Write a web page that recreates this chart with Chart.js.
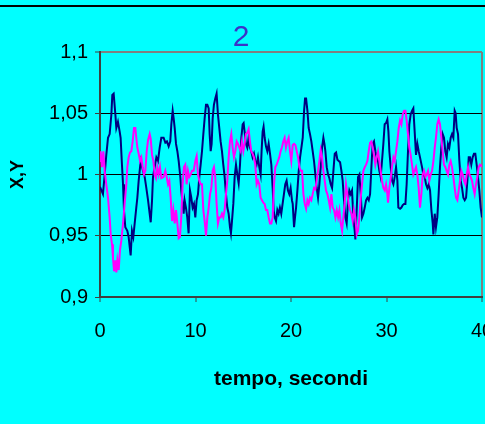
<!DOCTYPE html>
<html>
<head>
<meta charset="utf-8">
<style>
  html, body { margin: 0; padding: 0; background: #00ffff; }
  canvas { display: block; }
</style>
<script src="https://cdn.jsdelivr.net/npm/chart.js@4"></script>
</head>
<body>
<canvas id="grafico" width="485" height="424"></canvas>
<script>
// Serie X (blu): tempo in secondi e valori
const tempoX = [0, 0.31, 0.49, 0.66, 0.84, 1.01, 1.19, 1.29, 1.43, 1.61, 1.71, 1.88, 2.06, 2.16, 2.30, 2.41, 2.51, 2.65, 2.86, 3.00, 3.11, 3.21, 3.35, 3.49, 3.63, 3.80, 3.91, 4.05, 4.26, 4.50, 4.68, 4.85, 5.03, 5.20, 5.31, 5.45, 5.55, 5.72, 5.90, 6.07, 6.25, 6.42,
  6.66, 6.84, 7.01, 7.19, 7.36, 7.47, 7.61, 7.71, 7.82, 7.96, 8.10, 8.24, 8.41, 8.51, 8.65, 8.76, 8.86, 9.00, 9.14, 9.28, 9.42, 9.56, 9.70, 9.84, 9.98, 10.12, 10.26, 10.40, 10.54, 10.68, 10.82, 10.96, 11.10, 11.24, 11.38, 11.48, 11.59, 11.69, 11.80, 11.93, 12.07, 12.21, 12.35, 12.49, 12.63, 12.77, 12.91, 13.05, 13.19, 13.33,
  13.47, 13.61, 13.71, 13.82, 13.96, 14.10, 14.24, 14.38, 14.52, 14.66, 14.80, 14.94, 15.04, 15.14, 15.28, 15.42, 15.56, 15.70, 15.84, 15.98, 16.12, 16.26, 16.40, 16.54, 16.68, 16.82, 16.92, 17.03, 17.13, 17.24, 17.38, 17.52, 17.66, 17.80, 17.94, 18.08, 18.18, 18.29, 18.43, 18.57, 18.70, 18.84, 18.98, 19.12, 19.26, 19.40, 19.54, 19.68, 19.82, 19.96, 20.10,
  20.18, 20.32, 20.42, 20.53, 20.67, 20.81, 20.95, 21.09, 21.23, 21.37, 21.47, 21.58, 21.72, 21.85, 21.99, 22.13, 22.27, 22.41, 22.55, 22.69, 22.83, 22.97, 23.11, 23.25, 23.39, 23.50, 23.60, 23.74, 23.88, 24.02, 24.16, 24.30, 24.44, 24.58, 24.72, 24.86, 25.00, 25.14, 25.28, 25.41, 25.55, 25.69, 25.83, 25.97, 26.11, 26.25, 26.39, 26.53, 26.67, 26.74, 26.88,
  27.02, 27.16, 27.30, 27.44, 27.58, 27.72, 27.86, 28.00, 28.14, 28.28, 28.42, 28.55, 28.69, 28.83, 28.97, 29.11, 29.25, 29.39, 29.53, 29.67, 29.81, 29.95, 30.09, 30.20, 30.30, 30.44, 30.58, 30.72, 30.86, 31.00, 31.14, 31.24, 31.42, 31.56, 31.70, 31.84, 31.98, 32.11, 32.25, 32.39, 32.53, 32.67, 32.81, 32.95, 33.09, 33.23, 33.37, 33.51,
  33.72, 33.86, 34.00, 34.14, 34.28, 34.42, 34.56, 34.70, 34.84, 34.91, 35.05, 35.18, 35.32, 35.46, 35.60, 35.74, 35.88, 36.02, 36.16, 36.30, 36.44, 36.58, 36.72, 36.86, 37.00, 37.14, 37.24, 37.35, 37.49, 37.63, 37.77, 37.91, 38.05, 38.19, 38.33, 38.47, 38.61, 38.74, 38.88, 39.02, 39.16, 39.30, 39.44, 39.58, 39.72, 39.86, 40.00];
const serieX = [0.990, 0.984, 1.000, 1.016, 1.030, 1.033, 1.049, 1.065, 1.066, 1.049, 1.038, 1.043, 1.035, 1.030, 1.008, 0.992, 0.971, 0.957, 0.954, 0.949, 0.941, 0.934, 0.954, 0.949, 0.960, 0.973, 0.981, 0.995, 1.011, 1.003, 0.998, 0.989, 0.979, 0.968, 0.961, 0.979, 0.998, 1.006, 1.014, 1.011, 1.022, 1.030,
  1.030, 1.026, 1.027, 1.023, 1.027, 1.041, 1.052, 1.046, 1.038, 1.025, 1.019, 1.011, 0.998, 0.987, 0.976, 0.968, 0.979, 0.973, 0.965, 0.952, 0.987, 0.981, 0.973, 0.976, 0.965, 0.979, 0.984, 0.998, 1.008, 1.019, 1.033, 1.046, 1.057, 1.057, 1.054, 1.033, 1.019, 1.025, 1.046, 1.057, 1.062, 1.066, 1.049, 1.038, 1.027, 1.019, 1.008, 0.998, 0.984, 0.973,
  0.968, 0.957, 0.952, 0.962, 0.976, 0.998, 1.008, 1.000, 0.993, 1.008, 1.030, 1.041, 1.042, 1.035, 1.025, 1.022, 1.030, 1.022, 1.019, 1.014, 1.017, 1.011, 1.008, 1.014, 1.006, 1.000, 1.019, 1.035, 1.039, 1.030, 1.023, 1.019, 1.025, 1.017, 1.008, 0.989, 0.971, 0.965, 0.962, 0.971, 0.968, 0.973, 0.968, 0.976, 0.984, 0.992, 0.995, 0.987, 0.984, 0.989, 0.979,
  0.976, 0.957, 0.965, 0.973, 0.987, 1.003, 1.014, 1.022, 1.030, 1.052, 1.062, 1.062, 1.052, 1.038, 1.033, 1.027, 1.019, 1.011, 1.000, 0.989, 0.981, 0.992, 1.006, 1.022, 1.030, 1.025, 1.019, 1.006, 1.000, 0.997, 0.992, 0.989, 1.003, 1.017, 1.018, 1.012, 1.011, 1.010, 1.003, 0.995, 0.979, 0.965, 0.960, 0.979, 0.987, 0.984, 0.987, 0.965, 0.954, 0.947, 0.971,
  0.998, 1.000, 0.984, 0.965, 0.968, 0.973, 0.979, 0.981, 0.979, 0.984, 1.006, 1.025, 1.027, 1.019, 1.014, 1.011, 1.003, 0.998, 1.011, 1.025, 1.041, 1.042, 1.045, 1.035, 1.019, 1.006, 0.995, 0.992, 0.998, 1.006, 0.995, 0.973, 0.972, 0.973, 0.975, 0.976, 0.976, 0.992, 1.019, 1.041, 1.049, 1.052, 1.054, 1.035, 1.016, 1.025, 1.019, 1.014,
  1.006, 1.000, 0.998, 0.992, 0.989, 0.992, 0.987, 0.971, 0.960, 0.951, 0.968, 0.957, 0.965, 0.984, 1.006, 1.022, 1.033, 1.030, 1.019, 1.014, 1.025, 1.022, 1.030, 1.033, 1.030, 1.052, 1.050, 1.038, 1.033, 1.011, 0.995, 0.989, 0.981, 0.979, 0.981, 0.995, 1.014, 1.014, 1.008, 1.014, 1.017, 1.017, 1.008, 0.998, 0.987, 0.973, 0.965];

// Serie Y (magenta): tempo in secondi e valori
const tempoY = [0, 0.07, 0.21, 0.35, 0.49, 0.66, 0.84, 1.01, 1.12, 1.26, 1.36, 1.47, 1.61, 1.71, 1.82, 1.96, 2.09, 2.23, 2.41, 2.58, 2.76, 2.86, 3.00, 3.14, 3.28, 3.42, 3.56, 3.70, 3.80, 3.91, 4.05, 4.19, 4.33, 4.47, 4.61, 4.75, 4.89, 5.03, 5.20, 5.31, 5.45, 5.59, 5.72, 5.86, 6.00, 6.14, 6.28, 6.42,
  6.66, 6.84, 6.98, 7.12, 7.26, 7.40, 7.54, 7.68, 7.82, 7.96, 8.10, 8.24, 8.37, 8.51, 8.65, 8.79, 8.93, 9.07, 9.21, 9.35, 9.49, 9.63, 9.81, 9.98, 10.12, 10.26, 10.40, 10.54, 10.68, 10.82, 10.96, 11.10, 11.24, 11.38, 11.52, 11.66, 11.80, 11.93, 12.07, 12.21, 12.35, 12.49, 12.63, 12.77, 12.91, 13.05, 13.19, 13.33,
  13.47, 13.61, 13.75, 13.89, 14.03, 14.17, 14.31, 14.45, 14.59, 14.73, 14.87, 15.01, 15.14, 15.28, 15.42, 15.56, 15.70, 15.84, 15.98, 16.12, 16.26, 16.40, 16.54, 16.68, 16.82, 16.96, 17.10, 17.24, 17.38, 17.52, 17.66, 17.80, 17.94, 18.08, 18.22, 18.36, 18.50, 18.63, 18.77, 18.91, 19.05, 19.19, 19.33, 19.47, 19.61, 19.75, 19.89, 20.03,
  20.18, 20.32, 20.46, 20.60, 20.74, 20.88, 21.02, 21.16, 21.30, 21.44, 21.58, 21.72, 21.85, 21.99, 22.13, 22.27, 22.41, 22.55, 22.69, 22.83, 22.97, 23.11, 23.25, 23.39, 23.53, 23.67, 23.81, 23.95, 24.09, 24.23, 24.37, 24.51, 24.65, 24.79, 24.93, 25.07, 25.21, 25.35, 25.48, 25.62, 25.76, 25.90, 26.04, 26.18, 26.32, 26.46, 26.60, 26.74,
  26.88, 27.02, 27.16, 27.30, 27.44, 27.58, 27.72, 27.86, 28.00, 28.14, 28.28, 28.42, 28.55, 28.69, 28.83, 28.97, 29.11, 29.25, 29.39, 29.53, 29.67, 29.81, 29.95, 30.09, 30.16, 30.30, 30.44, 30.58, 30.72, 30.86, 31.00, 31.14, 31.28, 31.42, 31.56, 31.70, 31.84, 31.98, 32.11, 32.25, 32.39, 32.53, 32.67, 32.81, 32.95, 33.09, 33.23, 33.37, 33.51,
  33.65, 33.79, 33.93, 34.07, 34.21, 34.35, 34.49, 34.63, 34.77, 34.91, 35.05, 35.18, 35.32, 35.46, 35.60, 35.74, 35.88, 36.02, 36.16, 36.30, 36.44, 36.58, 36.72, 36.86, 37.00, 37.14, 37.28, 37.42, 37.56, 37.70, 37.84, 37.98, 38.12, 38.26, 38.40, 38.54, 38.68, 38.81, 38.95, 39.09, 39.23, 39.37, 39.51, 39.65, 39.79, 39.93, 40.00];
const serieY = [1.011, 1.019, 1.006, 1.019, 1.003, 0.992, 0.981, 0.965, 0.951, 0.943, 0.932, 0.921, 0.930, 0.920, 0.930, 0.922, 0.938, 0.946, 0.960, 0.976, 0.992, 1.006, 1.014, 1.018, 1.019, 1.027, 1.038, 1.038, 1.030, 1.022, 1.017, 1.011, 1.014, 1.006, 1.000, 1.003, 1.019, 1.028, 1.033, 1.029, 1.016, 1.011, 1.000, 0.997, 1.006, 1.000, 1.006, 0.997,
  0.998, 1.003, 0.998, 0.992, 0.995, 0.981, 0.962, 0.971, 0.960, 0.971, 0.960, 0.948, 0.949, 0.965, 0.992, 1.006, 1.008, 0.992, 1.003, 0.998, 1.000, 1.003, 1.003, 1.011, 1.015, 1.000, 0.995, 0.992, 0.992, 0.971, 0.962, 0.950, 0.965, 0.973, 0.984, 0.989, 1.003, 1.006, 0.998, 0.976, 0.960, 0.965, 0.965, 0.968, 0.965, 0.971, 0.984, 0.995,
  1.014, 1.027, 1.033, 1.022, 1.014, 1.019, 1.027, 1.025, 1.022, 1.019, 1.027, 1.019, 1.025, 1.033, 1.034, 1.037, 1.027, 1.019, 1.017, 1.014, 1.008, 0.992, 0.995, 0.992, 0.981, 0.979, 0.977, 0.976, 0.971, 0.971, 0.965, 0.960, 0.960, 0.965, 0.992, 1.006, 1.008, 1.011, 1.014, 1.019, 1.022, 1.027, 1.030, 1.022, 1.027, 1.030, 1.019, 1.011,
  1.024, 1.025, 1.024, 1.019, 1.014, 1.006, 1.003, 1.003, 0.984, 0.976, 0.972, 0.979, 0.976, 0.981, 0.979, 0.984, 0.989, 0.988, 0.995, 1.003, 1.011, 1.020, 1.014, 1.003, 0.995, 0.987, 0.984, 0.979, 0.973, 0.984, 0.973, 0.971, 0.965, 0.971, 0.965, 0.971, 0.960, 0.954, 0.965, 0.976, 0.992, 0.984, 0.976, 0.971, 0.968, 0.962, 0.971, 0.965,
  0.951, 0.954, 0.965, 0.981, 0.992, 1.003, 1.006, 1.008, 1.011, 1.019, 1.026, 1.027, 1.022, 1.016, 1.008, 1.014, 1.019, 1.011, 1.003, 0.995, 0.989, 0.987, 0.992, 0.984, 0.977, 0.989, 0.997, 1.006, 1.014, 1.011, 1.019, 1.027, 1.038, 1.044, 1.041, 1.049, 1.052, 1.052, 1.044, 1.033, 1.022, 1.016, 1.008, 1.000, 1.003, 1.006, 1.000, 0.989, 0.973,
  0.984, 1.000, 1.003, 0.998, 1.000, 1.003, 0.995, 1.000, 1.003, 1.011, 1.022, 1.030, 1.041, 1.045, 1.041, 1.030, 1.019, 1.008, 1.006, 1.003, 1.000, 1.008, 1.011, 1.006, 0.998, 0.989, 0.981, 0.979, 0.987, 0.995, 1.003, 1.000, 0.995, 0.992, 1.000, 1.006, 1.000, 0.998, 0.995, 0.989, 0.984, 0.992, 0.998, 1.006, 1.008, 1.007, 1.008];

// Assi: tacche ed etichette
const xTicks = [0, 10, 20, 30, 40];
const xTickLabels = ['0', '10', '20', '30', '40'];
const yTicks = [0.9, 0.95, 1, 1.05, 1.1];
const yTickLabels = ['0,9', '0,95', '1', '1,05', '1,1'];

const FONT = "'Liberation Sans', Arial, sans-serif";

function punti(tempi, valori) {
  return tempi.map((t, i) => ({ x: t, y: valori[i] }));
}

// Sfondo ciano e linea di bordo superiore
const sfondo = {
  id: 'sfondo',
  beforeDraw(chart) {
    const { ctx, width } = chart;
    ctx.save();
    ctx.fillStyle = '#00ffff';
    ctx.fillRect(0, 0, width, chart.height);
    ctx.strokeStyle = '#000000';
    ctx.lineWidth = 2;
    ctx.beginPath();
    ctx.moveTo(0, 6);
    ctx.lineTo(width, 6);
    ctx.stroke();
    ctx.restore();
  }
};

new Chart(document.getElementById('grafico'), {
  type: 'line',
  data: {
    datasets: [
      {
        label: 'X',
        data: punti(tempoX, serieX),
        borderColor: '#000080',
        borderWidth: 2,
        pointRadius: 0,
        tension: 0,
        order: 2
      },
      {
        label: 'Y',
        data: punti(tempoY, serieY),
        borderColor: '#ff00ff',
        borderWidth: 2,
        pointRadius: 0,
        tension: 0,
        order: 1
      }
    ]
  },
  options: {
    responsive: false,
    animation: false,
    layout: { padding: { left: 0, right: 3, top: 0, bottom: 0 } },
    plugins: {
      legend: { display: false },
      tooltip: { enabled: false },
      title: {
        display: true,
        text: '2',
        color: '#3c32c8',
        font: { family: FONT, size: 30, weight: 'normal', lineHeight: 0.9 },
        padding: { top: 24.5, bottom: 0.5 }
      }
    },
    scales: {
      x: {
        type: 'linear',
        min: 0,
        max: 40,
        afterBuildTicks: s => { s.ticks = xTicks.map(v => ({ value: v })); },
        afterFit: s => { s.height = 127; s.paddingLeft = 0; s.paddingRight = 0; },
        ticks: {
          color: '#000000',
          font: { family: FONT, size: 20 },
          padding: 17,
          maxRotation: 0,
          autoSkip: false,
          callback: v => xTickLabels[xTicks.indexOf(v)]
        },
        grid: {
          drawOnChartArea: true,
          color: c => (c.tick && c.tick.value === 40) ? '#808080' : 'rgba(0,0,0,0)',
          lineWidth: 2,
          tickLength: 5,
          tickColor: '#404040',
          tickWidth: 1
        },
        border: { color: '#404040', width: 2 },
        title: {
          display: true,
          text: 'tempo, secondi',
          color: '#000000',
          font: { family: FONT, size: 21, weight: 'bold' },
          padding: { top: 0, bottom: 32 }
        }
      },
      y: {
        type: 'linear',
        min: 0.9,
        max: 1.1,
        afterBuildTicks: s => { s.ticks = yTicks.map(v => ({ value: v })); },
        afterFit: s => { s.width = 100; s.paddingTop = 0; s.paddingBottom = 0; },
        ticks: {
          color: '#000000',
          font: { family: FONT, size: 20 },
          padding: 7,
          autoSkip: false,
          callback: v => yTickLabels[yTicks.indexOf(v)]
        },
        grid: {
          color: c => {
            if (!c.tick) return 'rgba(0,0,0,0)';
            if (c.tick.value === 1.1) return '#808080';
            if (c.tick.value === 0.9) return 'rgba(0,0,0,0)';
            return '#000000';
          },
          lineWidth: c => (c.tick && c.tick.value === 1.1) ? 2 : 1,
          tickLength: 5,
          tickColor: '#404040',
          tickWidth: 1
        },
        border: { color: '#404040', width: 2 },
        title: {
          display: true,
          text: 'X,Y',
          color: '#000000',
          font: { family: FONT, size: 18, weight: 'bold' },
          padding: { top: 7, bottom: 0 }
        }
      }
    }
  },
  plugins: [sfondo]
});
</script>
</body>
</html>
